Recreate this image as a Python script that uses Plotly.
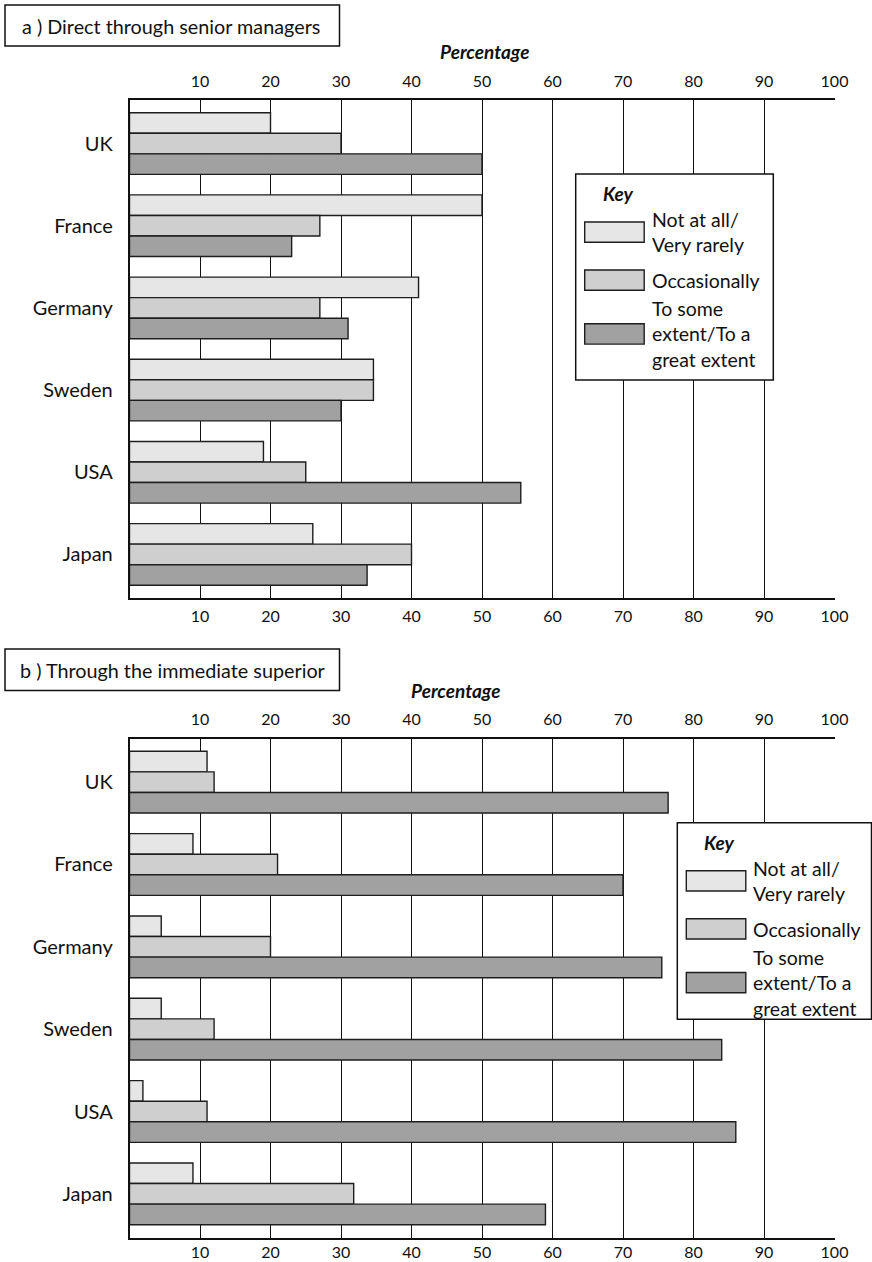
import plotly.graph_objects as go

# ---------------- data ----------------
countries = ["UK", "France", "Germany", "Sweden", "USA", "Japan"]
series_names = ["Not at all/<br>Very rarely", "Occasionally", "To some<br>extent/To a<br>great extent"]
series_colors = ["#e6e6e6", "#cfcfcf", "#a1a1a1"]

# a) Direct through senior managers
a_not_at_all = [20, 50, 41, 34.6, 19, 26]
a_occasionally = [30, 27, 27, 34.6, 25, 40]
a_some_extent = [50, 23, 31, 30, 55.5, 33.7]

# b) Through the immediate superior
b_not_at_all = [11, 9, 4.5, 4.5, 1.9, 9]
b_occasionally = [12, 21, 20, 12, 11, 31.8]
b_some_extent = [76.4, 70, 75.5, 84, 86, 59]

tick_vals = [10, 20, 30, 40, 50, 60, 70, 80, 90, 100]
tick_text = [str(v) for v in tick_vals]

panel_titles = ["a ) Direct through senior managers", "b ) Through the immediate superior"]
axis_title = "Percentage"
key_title = "Key"

# ---------------- layout helpers ----------------
W, H = 872, 1262
FONT = "Lato"


def px(x):
    return x / W


def py(y):
    return 1 - y / H


fig = go.Figure()

panels = [
    dict(vals=[a_not_at_all, a_occasionally, a_some_extent], x="x", y="y", xt="x3"),
    dict(vals=[b_not_at_all, b_occasionally, b_some_extent], x="x2", y="y2", xt="x4"),
]

for p in panels:
    for name, col, v in zip(series_names, series_colors, p["vals"]):
        fig.add_trace(go.Bar(
            x=v, y=countries, orientation="h", name=name,
            marker=dict(color=col, line=dict(color="#1e1e1e", width=1.4)),
            xaxis=p["x"], yaxis=p["y"], showlegend=False,
        ))
    # invisible helper trace so the top axis is drawn
    fig.add_trace(go.Scatter(x=[0, 100], y=[countries[0], countries[0]], mode="markers",
                             marker=dict(opacity=0), xaxis=p["xt"], yaxis=p["y"],
                             hoverinfo="skip", showlegend=False))

tick_font = dict(family=FONT, size=16, color="#111")
cat_font = dict(family=FONT, size=20, color="#111")

x_dom = [px(129.5), px(834.5)]
ya_dom = [py(598), py(100)]
yb_dom = [py(1237.5), py(738.5)]

common_x = dict(range=[0, 100], tickmode="array", tickvals=tick_vals, ticktext=tick_text,
                tickfont=tick_font, showline=True, linecolor="#111", linewidth=1.5,
                zeroline=False, ticks="", fixedrange=True, automargin=False)

common_y = dict(type="category", categoryorder="array", categoryarray=countries,
                range=[5.53, -0.53], showline=True, linecolor="#111", linewidth=1.5,
                showgrid=False, zeroline=False, ticks="", ticklabelstandoff=11,
                tickfont=cat_font, fixedrange=True, automargin=False)

# initial size leaves room for the browser's default 8px body margin;
# the post script removes that margin and sets the final 872x1262 size.
fig.update_layout(
    width=W - 16, height=H - 16, autosize=False,
    margin=dict(l=0, r=0, t=0, b=0, autoexpand=False),
    paper_bgcolor="white", plot_bgcolor="white",
    barmode="group", bargap=0.25, bargroupgap=0,
    font=dict(family=FONT, color="#111"),
    xaxis=dict(domain=x_dom, anchor="y", side="bottom", showgrid=True,
               gridcolor="#111", gridwidth=1.3, ticklabelstandoff=3, **common_x),
    xaxis3=dict(overlaying="x", anchor="y", side="top", showgrid=False, ticklabelstandoff=5, **common_x),
    yaxis=dict(domain=ya_dom, anchor="x", **common_y),
    xaxis2=dict(domain=x_dom, anchor="y2", side="bottom", showgrid=True,
                gridcolor="#111", gridwidth=1.3, ticklabelstandoff=0, **common_x),
    xaxis4=dict(overlaying="x2", anchor="y2", side="top", showgrid=False, ticklabelstandoff=5, **common_x),
    yaxis2=dict(domain=yb_dom, anchor="x2", **common_y),
)

shapes = []
annotations = []

# panel title boxes
for title, (bx0, by0, bx1, by1), tx in zip(panel_titles,
                                           [(5, 5, 339.5, 46), (5, 649, 339.5, 690.5)],
                                           [20, 17.5]):
    shapes.append(dict(type="rect", xref="paper", yref="paper",
                       x0=px(bx0), x1=px(bx1), y0=py(by1), y1=py(by0),
                       line=dict(color="#111", width=1.5), fillcolor="white", layer="above"))
    annotations.append(dict(text=title, xref="paper", yref="paper", x=px(tx), y=py((by0 + by1) / 2 + 0.5),
                            xanchor="left", yanchor="middle", showarrow=False,
                            font=dict(family=FONT, size=19.8, color="#111")))

# "Percentage" axis titles
for cx, cy in [(484.5, 51.5), (455, 690.5)]:
    annotations.append(dict(text="<b><i>" + axis_title + "</i></b>", xref="paper", yref="paper",
                            x=px(cx), y=py(cy), xanchor="center", yanchor="middle", showarrow=False,
                            font=dict(family=FONT, size=19, color="#111")))


# keys (legend boxes)
def add_key(left, top, width, height):
    shapes.append(dict(type="rect", xref="paper", yref="paper",
                       x0=px(left), x1=px(left + width), y0=py(top + height), y1=py(top),
                       line=dict(color="#111", width=1.5), fillcolor="white", layer="above"))
    annotations.append(dict(text="<b><i>" + key_title + "</i></b>", xref="paper", yref="paper",
                            x=px(left + 25), y=py(top + 20), xanchor="left", yanchor="middle",
                            showarrow=False, font=dict(family=FONT, size=19, color="#111")))
    sw_tops = [48, 96, 149.8]
    for name, col, st in zip(series_names, series_colors, sw_tops):
        shapes.append(dict(type="rect", xref="paper", yref="paper",
                           x0=px(left + 9), x1=px(left + 68.5),
                           y0=py(top + st + 20.3), y1=py(top + st),
                           line=dict(color="#1e1e1e", width=1.4), fillcolor=col, layer="above"))
        annotations.append(dict(text=name, xref="paper", yref="paper",
                                x=px(left + 74), y=py(top + st + 10.5), xanchor="left", yanchor="middle",
                                align="left", showarrow=False,
                                font=dict(family=FONT, size=19.5, color="#111")))


add_key(575.7, 174, 197.6, 206)
add_key(677.3, 822.7, 194.2, 196.6)

fig.update_layout(shapes=shapes, annotations=annotations)

post = (
    "document.documentElement.style.margin='0';"
    "document.body.style.margin='0';"
    "document.body.style.padding='0';"
    "document.body.style.overflow='hidden';"
    "var gd=document.getElementById('{plot_id}');"
    "gd.style.width='%dpx';gd.style.height='%dpx';"
    "Plotly.relayout(gd,{width:%d,height:%d});" % (W, H, W, H)
)

fig.write_html(
    "out.html",
    config={"displayModeBar": False},
    post_script=post,
)
